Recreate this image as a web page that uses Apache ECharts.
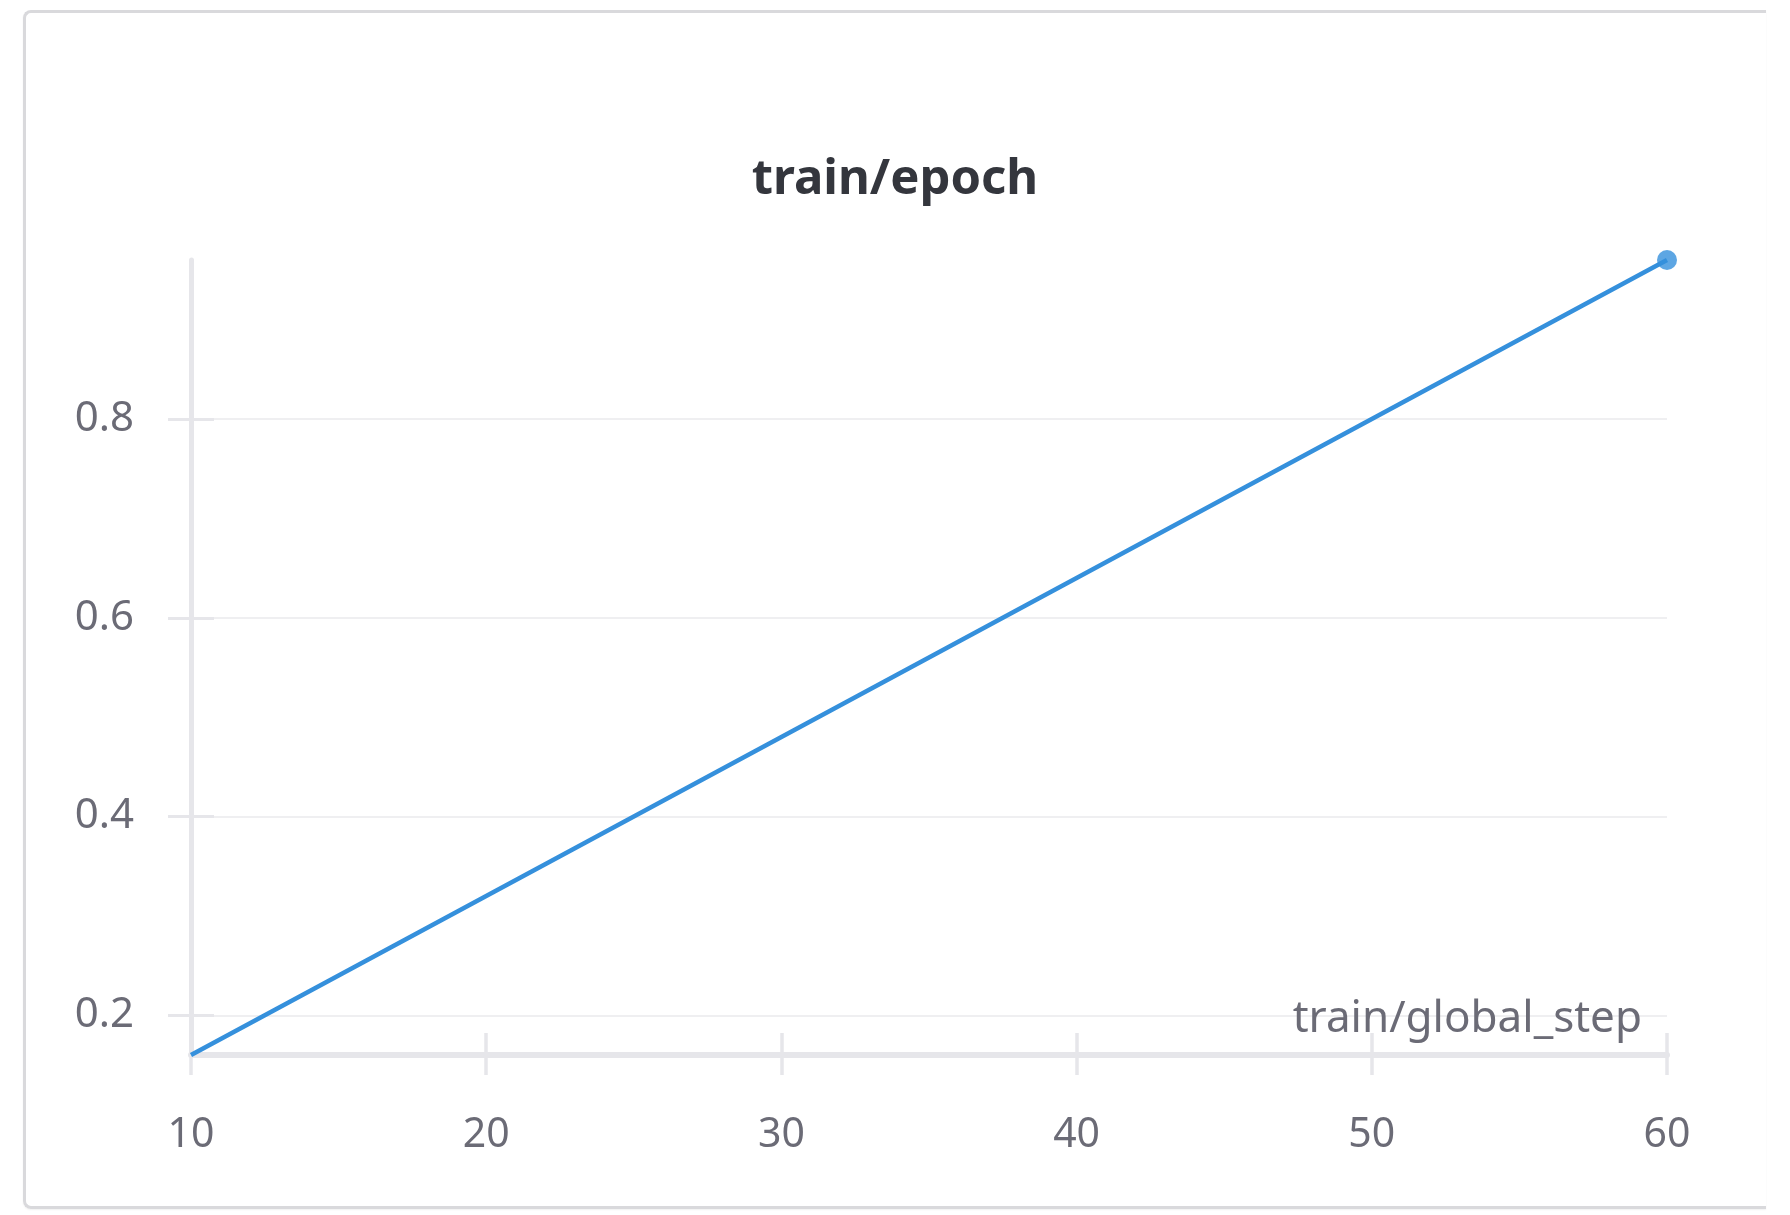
<!DOCTYPE html>
<html>
<head>
<meta charset="utf-8">
<script src="https://cdn.jsdelivr.net/npm/echarts@6/dist/echarts.min.js"></script>
<style>
  html, body { margin: 0; padding: 0; background: #ffffff; }
  #wrap { position: relative; width: 1790px; height: 1215px; overflow: hidden; background: #ffffff; }
  #panel { position: absolute; left: 23px; top: 10px; width: 1740px; height: 1193px;
           border: 3px solid #d9d9dc; border-right: none; border-radius: 8px 0 0 8px;
           box-shadow: 0 1px 2px rgba(0,0,0,0.06); box-sizing: content-box; }
  #chart { position: absolute; left: 0; top: 0; width: 1790px; height: 1215px; }
</style>
</head>
<body>
<div id="wrap">
  <div id="panel"></div>
  <div id="chart"></div>
</div>
<script>
const chartTitle = 'train/epoch';
const xAxisName = 'train/global_step';
const steps = [10, 20, 30, 40, 50, 60];
const epochs = [0.16, 0.32, 0.48, 0.64, 0.80, 0.96];
const yTicks = [0.2, 0.4, 0.6, 0.8];
const xMin = 10, xMax = 60, xInterval = 10;
const yMin = 0.16, yMax = 0.96;

const FONT = '"Noto Sans", "Open Sans", sans-serif';
const AXIS_GRAY = '#e6e6ea';
const LABEL_GRAY = '#6b6b76';
const LINE_BLUE = '#3590dc';

const chart = echarts.init(document.getElementById('chart'), null, { renderer: 'canvas' });

const lineData = steps.map((s, i) => [s, epochs[i]]);
const lastPoint = [[steps[steps.length - 1], epochs[epochs.length - 1]]];

chart.setOption({
  backgroundColor: 'transparent',
  animation: false,
  title: {
    text: chartTitle,
    left: 'center',
    top: 151,
    textStyle: { fontFamily: FONT, fontSize: 49, fontWeight: 'bold', color: '#34363d' }
  },
  grid: { left: 191, right: 123, top: 260, bottom: 160, containLabel: false, outerBoundsMode: 'none' },
  xAxis: [
    {
      type: 'value', position: 'bottom', min: xMin, max: xMax, interval: xInterval,
      name: xAxisName, nameLocation: 'end', nameGap: -25,
      nameTextStyle: { fontFamily: FONT, fontSize: 44, color: LABEL_GRAY, align: 'right', verticalAlign: 'bottom', padding: [0, 0, 14, 0] },
      axisLine: { show: true, lineStyle: { color: AXIS_GRAY, width: 6 } },
      axisTick: { show: true, inside: false, length: 20, lineStyle: { color: AXIS_GRAY, width: 3.5 } },
      axisLabel: { show: true, margin: 60, fontFamily: FONT, fontSize: 41, color: LABEL_GRAY },
      splitLine: { show: false }
    },
    {
      type: 'value', position: 'bottom', min: xMin, max: xMax, interval: xInterval,
      axisLine: { show: false },
      axisTick: { show: true, inside: true, length: 22, lineStyle: { color: AXIS_GRAY, width: 3.5 } },
      axisLabel: { show: false },
      splitLine: { show: false }
    }
  ],
  yAxis: [
    {
      type: 'value', position: 'left', min: yMin, max: yMax,
      axisLine: { show: true, lineStyle: { color: AXIS_GRAY, width: 5 } },
      axisTick: { show: true, inside: false, length: 23, customValues: yTicks, lineStyle: { color: AXIS_GRAY, width: 3 } },
      axisLabel: { show: true, margin: 57, customValues: yTicks, fontFamily: FONT, fontSize: 42, color: LABEL_GRAY,
                   padding: [12, 0, 0, 0], formatter: v => String(v) },
      splitLine: { show: true, lineStyle: { color: '#efeff1', width: 2 } }
    },
    {
      type: 'value', position: 'left', min: yMin, max: yMax,
      axisLine: { show: false },
      axisTick: { show: true, inside: true, length: 23, customValues: yTicks, lineStyle: { color: AXIS_GRAY, width: 3 } },
      axisLabel: { show: false },
      splitLine: { show: false }
    }
  ],
  series: [
    {
      type: 'line', xAxisIndex: 0, yAxisIndex: 0, data: lineData,
      showSymbol: false, symbol: 'none',
      lineStyle: { color: LINE_BLUE, width: 4.5 },
      z: 5
    },
    {
      type: 'scatter', xAxisIndex: 0, yAxisIndex: 0, data: lastPoint,
      symbol: 'circle', symbolSize: 20,
      itemStyle: { color: LINE_BLUE },
      z: 6
    }
  ]
});
</script>
</body>
</html>
